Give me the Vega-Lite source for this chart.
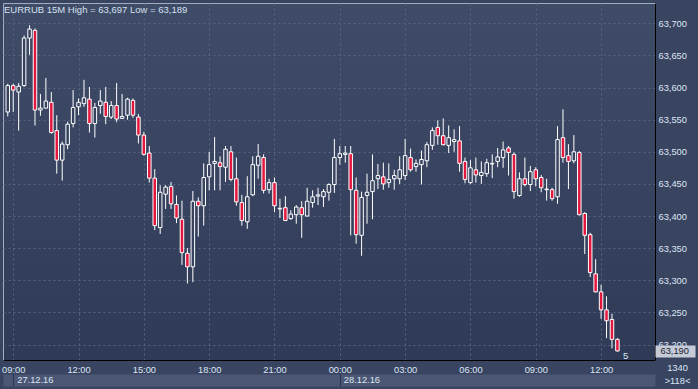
{
"$schema": "https://vega.github.io/schema/vega-lite/v6.json",
"width": 652, "height": 357,
"autosize": {"type": "none"},
"padding": {"left": 3, "top": 3, "right": 43, "bottom": 29},
"background": "#384460",
"config": {
  "font": "Liberation Sans",
  "view": {"stroke": "#a3adbf", "strokeWidth": 1, "fill": {"gradient": "linear", "x1": 0, "y1": 0, "x2": 0, "y2": 1, "stops": [{"offset": 0, "color": "#3f4c68"}, {"offset": 1, "color": "#2f3a57"}]}},
  "axis": {"labelFontSize": 9.3, "labelColor": "#dce6f5", "titleFontSize": 9.3, "titleFontWeight": "normal", "titleColor": "#dce6f5", "gridColor": "#57647f", "gridDash": [2, 3], "gridOpacity": 1, "gridWidth": 1, "domainColor": "#000000", "ticks": false, "labelFlush": false, "labelOverlap": false}
},
"title": {"text": "EURRUB 15M  High = 63,697 Low = 63,189", "anchor": "start", "frame": "group", "orient": "top", "offset": -19, "baseline": "alphabetic", "fontSize": 9.5, "fontWeight": "normal", "color": "#d6e0f0", "dx": 1},
"data": {"values": [
{"t":"2016-12-27T08:45:00Z","open":63.562,"high":63.606,"low":63.555,"close":63.603},
{"t":"2016-12-27T09:00:00Z","open":63.603,"high":63.606,"low":63.562,"close":63.596},
{"t":"2016-12-27T09:15:00Z","open":63.593,"high":63.607,"low":63.533,"close":63.602},
{"t":"2016-12-27T09:30:00Z","open":63.603,"high":63.681,"low":63.601,"close":63.677},
{"t":"2016-12-27T09:45:00Z","open":63.677,"high":63.697,"low":63.651,"close":63.691},
{"t":"2016-12-27T10:00:00Z","open":63.689,"high":63.692,"low":63.541,"close":63.565},
{"t":"2016-12-27T10:15:00Z","open":63.565,"high":63.590,"low":63.556,"close":63.568},
{"t":"2016-12-27T10:30:00Z","open":63.568,"high":63.615,"low":63.567,"close":63.579},
{"t":"2016-12-27T10:45:00Z","open":63.577,"high":63.593,"low":63.528,"close":63.530},
{"t":"2016-12-27T11:00:00Z","open":63.533,"high":63.557,"low":63.466,"close":63.487},
{"t":"2016-12-27T11:15:00Z","open":63.487,"high":63.516,"low":63.455,"close":63.512},
{"t":"2016-12-27T11:30:00Z","open":63.511,"high":63.547,"low":63.504,"close":63.543},
{"t":"2016-12-27T11:45:00Z","open":63.544,"high":63.596,"low":63.538,"close":63.569},
{"t":"2016-12-27T12:00:00Z","open":63.570,"high":63.583,"low":63.557,"close":63.577},
{"t":"2016-12-27T12:15:00Z","open":63.575,"high":63.612,"low":63.570,"close":63.584},
{"t":"2016-12-27T12:30:00Z","open":63.582,"high":63.601,"low":63.530,"close":63.544},
{"t":"2016-12-27T12:45:00Z","open":63.544,"high":63.576,"low":63.522,"close":63.569},
{"t":"2016-12-27T13:00:00Z","open":63.572,"high":63.596,"low":63.559,"close":63.579},
{"t":"2016-12-27T13:15:00Z","open":63.577,"high":63.601,"low":63.543,"close":63.555},
{"t":"2016-12-27T13:30:00Z","open":63.554,"high":63.579,"low":63.551,"close":63.572},
{"t":"2016-12-27T13:45:00Z","open":63.572,"high":63.607,"low":63.546,"close":63.551},
{"t":"2016-12-27T14:00:00Z","open":63.552,"high":63.590,"low":63.551,"close":63.555},
{"t":"2016-12-27T14:15:00Z","open":63.557,"high":63.584,"low":63.550,"close":63.582},
{"t":"2016-12-27T14:30:00Z","open":63.580,"high":63.583,"low":63.553,"close":63.557},
{"t":"2016-12-27T14:45:00Z","open":63.554,"high":63.559,"low":63.513,"close":63.526},
{"t":"2016-12-27T15:00:00Z","open":63.526,"high":63.531,"low":63.494,"close":63.496},
{"t":"2016-12-27T15:15:00Z","open":63.498,"high":63.509,"low":63.452,"close":63.459},
{"t":"2016-12-27T15:30:00Z","open":63.459,"high":63.473,"low":63.378,"close":63.385},
{"t":"2016-12-27T15:45:00Z","open":63.382,"high":63.448,"low":63.372,"close":63.437},
{"t":"2016-12-27T16:00:00Z","open":63.434,"high":63.448,"low":63.411,"close":63.445},
{"t":"2016-12-27T16:15:00Z","open":63.446,"high":63.453,"low":63.411,"close":63.419},
{"t":"2016-12-27T16:30:00Z","open":63.418,"high":63.432,"low":63.389,"close":63.397},
{"t":"2016-12-27T16:45:00Z","open":63.395,"high":63.424,"low":63.324,"close":63.343},
{"t":"2016-12-27T17:00:00Z","open":63.342,"high":63.350,"low":63.295,"close":63.321},
{"t":"2016-12-27T17:15:00Z","open":63.321,"high":63.439,"low":63.297,"close":63.423},
{"t":"2016-12-27T17:30:00Z","open":63.423,"high":63.429,"low":63.368,"close":63.416},
{"t":"2016-12-27T17:45:00Z","open":63.416,"high":63.482,"low":63.385,"close":63.460},
{"t":"2016-12-27T18:00:00Z","open":63.461,"high":63.500,"low":63.440,"close":63.480},
{"t":"2016-12-27T18:15:00Z","open":63.482,"high":63.523,"low":63.440,"close":63.485},
{"t":"2016-12-27T18:30:00Z","open":63.483,"high":63.493,"low":63.440,"close":63.477},
{"t":"2016-12-27T18:45:00Z","open":63.476,"high":63.509,"low":63.453,"close":63.504},
{"t":"2016-12-27T19:00:00Z","open":63.500,"high":63.509,"low":63.454,"close":63.457},
{"t":"2016-12-27T19:15:00Z","open":63.458,"high":63.491,"low":63.416,"close":63.422},
{"t":"2016-12-27T19:30:00Z","open":63.421,"high":63.433,"low":63.385,"close":63.393},
{"t":"2016-12-27T19:45:00Z","open":63.391,"high":63.462,"low":63.380,"close":63.430},
{"t":"2016-12-27T20:00:00Z","open":63.433,"high":63.493,"low":63.431,"close":63.480},
{"t":"2016-12-27T20:15:00Z","open":63.479,"high":63.512,"low":63.458,"close":63.493},
{"t":"2016-12-27T20:30:00Z","open":63.491,"high":63.496,"low":63.435,"close":63.440},
{"t":"2016-12-27T20:45:00Z","open":63.441,"high":63.458,"low":63.435,"close":63.452},
{"t":"2016-12-27T21:00:00Z","open":63.452,"high":63.460,"low":63.406,"close":63.416},
{"t":"2016-12-27T21:15:00Z","open":63.411,"high":63.427,"low":63.397,"close":63.412},
{"t":"2016-12-27T21:30:00Z","open":63.413,"high":63.431,"low":63.392,"close":63.393},
{"t":"2016-12-27T21:45:00Z","open":63.396,"high":63.409,"low":63.394,"close":63.403},
{"t":"2016-12-27T22:00:00Z","open":63.402,"high":63.417,"low":63.388,"close":63.414},
{"t":"2016-12-27T22:15:00Z","open":63.413,"high":63.423,"low":63.366,"close":63.402},
{"t":"2016-12-27T22:30:00Z","open":63.400,"high":63.444,"low":63.399,"close":63.423},
{"t":"2016-12-27T22:45:00Z","open":63.421,"high":63.440,"low":63.413,"close":63.430},
{"t":"2016-12-27T23:00:00Z","open":63.431,"high":63.444,"low":63.417,"close":63.433},
{"t":"2016-12-27T23:15:00Z","open":63.430,"high":63.442,"low":63.414,"close":63.438},
{"t":"2016-12-27T23:30:00Z","open":63.437,"high":63.451,"low":63.424,"close":63.449},
{"t":"2016-12-27T23:45:00Z","open":63.449,"high":63.520,"low":63.436,"close":63.491},
{"t":"2016-12-28T00:00:00Z","open":63.491,"high":63.509,"low":63.480,"close":63.497},
{"t":"2016-12-28T00:15:00Z","open":63.496,"high":63.509,"low":63.483,"close":63.498},
{"t":"2016-12-28T00:30:00Z","open":63.497,"high":63.509,"low":63.370,"close":63.441},
{"t":"2016-12-28T00:45:00Z","open":63.440,"high":63.460,"low":63.357,"close":63.371},
{"t":"2016-12-28T01:00:00Z","open":63.370,"high":63.438,"low":63.338,"close":63.429},
{"t":"2016-12-28T01:15:00Z","open":63.432,"high":63.466,"low":63.388,"close":63.437},
{"t":"2016-12-28T01:30:00Z","open":63.438,"high":63.496,"low":63.395,"close":63.455},
{"t":"2016-12-28T01:45:00Z","open":63.458,"high":63.481,"low":63.442,"close":63.463},
{"t":"2016-12-28T02:00:00Z","open":63.461,"high":63.483,"low":63.441,"close":63.450},
{"t":"2016-12-28T02:15:00Z","open":63.452,"high":63.482,"low":63.444,"close":63.457},
{"t":"2016-12-28T02:30:00Z","open":63.458,"high":63.472,"low":63.441,"close":63.463},
{"t":"2016-12-28T02:45:00Z","open":63.458,"high":63.493,"low":63.450,"close":63.472},
{"t":"2016-12-28T03:00:00Z","open":63.463,"high":63.520,"low":63.456,"close":63.494},
{"t":"2016-12-28T03:15:00Z","open":63.491,"high":63.505,"low":63.469,"close":63.472},
{"t":"2016-12-28T03:30:00Z","open":63.477,"high":63.488,"low":63.469,"close":63.482},
{"t":"2016-12-28T03:45:00Z","open":63.480,"high":63.502,"low":63.449,"close":63.488},
{"t":"2016-12-28T04:00:00Z","open":63.486,"high":63.515,"low":63.476,"close":63.511},
{"t":"2016-12-28T04:15:00Z","open":63.510,"high":63.538,"low":63.503,"close":63.533},
{"t":"2016-12-28T04:30:00Z","open":63.538,"high":63.549,"low":63.511,"close":63.525},
{"t":"2016-12-28T04:45:00Z","open":63.525,"high":63.552,"low":63.510,"close":63.511},
{"t":"2016-12-28T05:00:00Z","open":63.510,"high":63.541,"low":63.498,"close":63.522},
{"t":"2016-12-28T05:15:00Z","open":63.516,"high":63.535,"low":63.500,"close":63.519},
{"t":"2016-12-28T05:30:00Z","open":63.517,"high":63.540,"low":63.469,"close":63.482},
{"t":"2016-12-28T05:45:00Z","open":63.485,"high":63.491,"low":63.451,"close":63.457},
{"t":"2016-12-28T06:00:00Z","open":63.452,"high":63.487,"low":63.450,"close":63.475},
{"t":"2016-12-28T06:15:00Z","open":63.472,"high":63.491,"low":63.452,"close":63.464},
{"t":"2016-12-28T06:30:00Z","open":63.463,"high":63.485,"low":63.450,"close":63.468},
{"t":"2016-12-28T06:45:00Z","open":63.466,"high":63.489,"low":63.461,"close":63.483},
{"t":"2016-12-28T07:00:00Z","open":63.481,"high":63.496,"low":63.459,"close":63.482},
{"t":"2016-12-28T07:15:00Z","open":63.485,"high":63.506,"low":63.476,"close":63.492},
{"t":"2016-12-28T07:30:00Z","open":63.491,"high":63.516,"low":63.475,"close":63.503},
{"t":"2016-12-28T07:45:00Z","open":63.506,"high":63.509,"low":63.463,"close":63.499},
{"t":"2016-12-28T08:00:00Z","open":63.496,"high":63.499,"low":63.427,"close":63.438},
{"t":"2016-12-28T08:15:00Z","open":63.432,"high":63.468,"low":63.430,"close":63.458},
{"t":"2016-12-28T08:30:00Z","open":63.458,"high":63.491,"low":63.446,"close":63.449},
{"t":"2016-12-28T08:45:00Z","open":63.449,"high":63.478,"low":63.439,"close":63.469},
{"t":"2016-12-28T09:00:00Z","open":63.472,"high":63.476,"low":63.446,"close":63.458},
{"t":"2016-12-28T09:15:00Z","open":63.460,"high":63.464,"low":63.437,"close":63.444},
{"t":"2016-12-28T09:30:00Z","open":63.441,"high":63.458,"low":63.424,"close":63.442},
{"t":"2016-12-28T09:45:00Z","open":63.441,"high":63.444,"low":63.424,"close":63.427},
{"t":"2016-12-28T10:00:00Z","open":63.430,"high":63.540,"low":63.419,"close":63.519},
{"t":"2016-12-28T10:15:00Z","open":63.522,"high":63.566,"low":63.483,"close":63.491},
{"t":"2016-12-28T10:30:00Z","open":63.494,"high":63.512,"low":63.442,"close":63.485},
{"t":"2016-12-28T10:45:00Z","open":63.486,"high":63.526,"low":63.482,"close":63.500},
{"t":"2016-12-28T11:00:00Z","open":63.499,"high":63.501,"low":63.401,"close":63.402},
{"t":"2016-12-28T11:15:00Z","open":63.404,"high":63.406,"low":63.341,"close":63.370},
{"t":"2016-12-28T11:30:00Z","open":63.371,"high":63.374,"low":63.305,"close":63.312},
{"t":"2016-12-28T11:45:00Z","open":63.310,"high":63.333,"low":63.281,"close":63.282},
{"t":"2016-12-28T12:00:00Z","open":63.282,"high":63.293,"low":63.240,"close":63.254},
{"t":"2016-12-28T12:15:00Z","open":63.254,"high":63.275,"low":63.210,"close":63.237},
{"t":"2016-12-28T12:30:00Z","open":63.239,"high":63.248,"low":63.194,"close":63.208},
{"t":"2016-12-28T12:45:00Z","open":63.208,"high":63.210,"low":63.189,"close":63.190}
]},
"layer": [
  {
    "mark": {"type": "rule", "color": "#ffffff", "strokeWidth": 1, "clip": true},
    "encoding": {
      "x": {"field": "t", "type": "temporal",
        "scale": {"type": "utc", "domain": [1482828337000, 1482934488000]},
        "axis": {"orient": "bottom", "values": [1482829200000, 1482840000000, 1482850800000, 1482861600000, 1482872400000, 1482883200000, 1482894000000, 1482904800000, 1482915600000, 1482926400000], "labelExpr": "utcFormat(datum.value, '%H:%M')", "labelPadding": 5, "labelFlush": false, "labelAlign": "center", "grid": true, "title": "1340", "titleX": 674, "titleY": 7.5, "titleBaseline": "middle", "titleAlign": "center"}
      },
      "y": {"field": "low", "type": "quantitative",
        "scale": {"domain": [63.1759, 63.7316], "nice": false, "zero": false},
        "axis": {"orient": "right", "values": [63.2, 63.25, 63.3, 63.35, 63.4, 63.45, 63.5, 63.55, 63.6, 63.65, 63.7], "labelExpr": "replace(format(datum.value, '.3f'), '.', ',')", "labelPadding": 3, "grid": true, "title": null, "labelBaseline": "middle"}
      },
      "y2": {"field": "high"}
    }
  },
  {
    "mark": {"type": "bar", "size": 3.5, "stroke": "#ffffff", "strokeWidth": 1, "clip": true},
    "encoding": {
      "x": {"field": "t", "type": "temporal",
        "axis": {"orient": "bottom", "offset": 20, "values": [1482829200000], "labels": false, "ticks": false, "domainColor": "#4b5774", "domainWidth": 12, "grid": false, "title": null}
      },
      "y": {"field": "open", "type": "quantitative",
        "axis": {"orient": "right", "values": [63.19], "labelExpr": "'63,190'", "grid": false, "domain": false, "ticks": true, "tickSize": 40, "tickWidth": 12, "tickColor": "#c5ccd8", "labelPadding": -35, "labelColor": "#1b2030", "labelBaseline": "middle", "title": null}
      },
      "y2": {"field": "close"},
      "fill": {"condition": {"test": "datum.open > datum.close", "value": "#e3173e"}, "value": "#36425e"}
    }
  },
  {
    "data": {"values": [{"t": "2016-12-28T12:45:00Z", "low": 63.189, "label": "5"}]},
    "mark": {"type": "text", "color": "#dce6f5", "fontSize": 9.5, "align": "left", "baseline": "middle", "dx": 5.5, "dy": 4},
    "encoding": {
      "x": {"field": "t", "type": "temporal",
        "axis": {"orient": "bottom", "offset": 14, "values": [1482829200000, 1482883200000], "labelExpr": "utcFormat(datum.value, '%d.%m.%y')", "labelAlign": "left", "labelOffset": 3.5, "labelBaseline": "middle", "labelPadding": -7, "labelFlush": false, "domain": false, "ticks": true, "tickSize": 12, "tickColor": "#2b3550", "grid": false, "title": ">118<", "titleX": 674, "titleY": 6.5, "titleBaseline": "middle", "titleAlign": "center"}
      },
      "y": {"field": "low", "type": "quantitative", "axis": null},
      "text": {"field": "label"}
    }
  }
],
"resolve": {"axis": {"x": "independent", "y": "independent"}}
}
